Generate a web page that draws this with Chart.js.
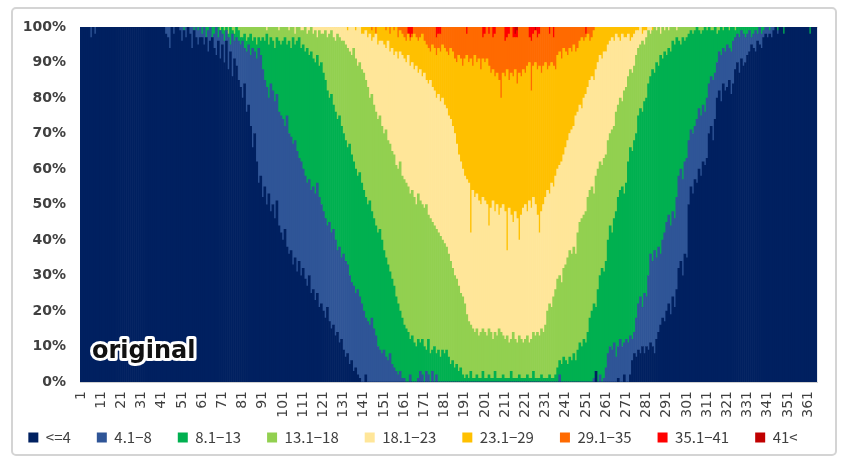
<!DOCTYPE html>
<html>
<head>
<meta charset="utf-8">
<script src="https://cdn.jsdelivr.net/npm/chart.js@4.4.1/dist/chart.umd.min.js"></script>
<style>
  html, body { margin: 0; padding: 0; background: #fff; }
  #wrap { width: 842px; height: 463px; }
</style>
</head>
<body>
<div id="wrap"><canvas id="daychart" width="842" height="463"></canvas></div>
<script>
var classes = ['<=4', '4.1\u22128', '8.1\u221213', '13.1\u221218', '18.1\u221223', '23.1\u221229', '29.1\u221235', '35.1\u221241', '41<'];
var colors = ['#002060', '#2f5597', '#00b050', '#92d050', '#ffe699', '#ffc000', '#ff6a00', '#ff0000', '#c00000'];

// day of year 1..365
var days = [];
for (var d = 1; d <= 365; d++) days.push(d);

// cumulative share (%) of each day at or below the class upper bound
var upTo4 = [
 100,100,100,100,100,97,100,98,100,100,
 100,100,100,100,100,100,100,100,100,100,
 100,100,100,100,100,100,100,100,100,100,
 100,100,100,100,100,100,100,100,100,100,
 100,100,98,97,94,100,98,100,100,99,
 96,99,97,100,98,94,99,97,95,97,
 97,95,97,93,96,97,94,92,96,91,
 95,90,96,88,93,86,91,89,85,83,
 80,84,76,78,72,66,70,62,56,58,
 52,55,50,53,48,50,46,51,44,42,
 40,43,38,36,37,33,35,31,34,30,
 32,29,27,30,25,26,23,25,21,22,
 20,18,21,17,15,16,13,14,11,12,
 9,7,8,5,6,3,4,2,1,0,
 0,2,0,0,0,0,0,0,0,0,
 0,0,0,0,0,0,0,0,0,0,
 0,0,0,0,0,0,0,0,0,0,
 0,0,0,0,0,0,0,0,0,0,
 0,0,0,0,0,0,0,0,0,0,
 0,0,0,0,0,0,0,0,0,0,
 0,0,0,0,0,0,0,0,0,0,
 0,0,0,0,0,0,0,0,0,0,
 0,0,0,0,0,0,0,0,0,0,
 0,0,0,0,0,0,0,0,0,0,
 0,0,0,0,0,0,0,0,0,0,
 0,0,0,0,0,3,0,0,0,0,
 0,0,0,0,0,0,1,0,0,2,
 0,0,2,6,8,7,9,8,10,8,
 10,9,11,10,8,12,14,16,18,17,
 20,22,19,24,21,26,32,34,30,36,
 35,50,55,53,57,56,60,58,62,61,
 63,70,72,68,74,80,82,79,84,82,
 83,85,81,84,88,90,87,91,89,90,
 92,93,95,94,93,96,95,94,97,98,
 97,98,97,99,100,98,100,100,98,100,
 100,100,100,100,100,100,100,100,100,100,
 100,98,100,100,100
];
var upTo8 = [
 100,100,100,100,100,100,100,100,100,100,
 100,100,100,100,100,100,100,100,100,100,
 100,100,100,100,100,100,100,100,100,100,
 100,100,100,100,100,100,100,100,100,100,
 100,100,100,100,100,100,100,97,98,100,
 100,99,100,98,100,100,97,100,99,100,
 98,100,97,99,100,96,98,100,97,99,
 98,96,99,97,95,98,96,97,96,95,
 96,94,93,95,92,94,93,91,94,92,
 88,85,83,80,84,82,79,81,76,75,
 74,72,75,70,69,67,68,65,63,62,
 60,58,56,57,54,55,53,56,52,50,
 48,46,44,45,42,43,40,37,38,35,
 36,34,33,30,28,27,25,26,24,22,
 20,18,17,16,18,15,13,10,9,8,
 9,7,6,8,5,4,3,2,3,1,
 1,0,0,2,0,0,0,1,3,2,
 0,3,2,0,3,0,2,0,0,0,
 0,0,0,0,0,0,0,0,0,0,
 0,0,0,0,0,0,0,0,0,0,
 0,0,0,0,0,0,0,0,0,0,
 0,0,0,0,0,0,0,0,0,0,
 0,0,0,0,0,0,0,0,0,0,
 0,0,0,0,0,0,0,2,0,0,
 0,0,0,0,0,0,0,0,0,0,
 0,0,0,0,1,3,0,2,0,1,
 4,8,10,9,11,7,10,12,10,11,
 12,11,13,12,14,18,22,24,21,25,
 24,30,36,34,37,35,38,36,40,42,
 45,47,44,48,46,52,58,60,57,62,
 63,68,71,70,72,74,77,75,78,76,
 80,84,86,85,87,90,93,92,94,93,
 95,94,93,96,97,98,97,99,98,97,
 98,99,97,98,99,98,100,98,99,100,
 100,99,100,100,100,99,100,100,98,100,
 100,100,100,100,100,100,100,100,100,100,
 100,98,100,100,100
];
var upTo13 = [
 100,100,100,100,100,100,100,100,100,100,
 100,100,100,100,100,100,100,100,100,100,
 100,100,100,100,100,100,100,100,100,100,
 100,100,100,100,100,100,100,100,100,100,
 100,100,100,100,100,100,100,100,100,100,
 100,100,100,100,100,100,100,100,100,100,
 100,99,100,100,99,100,100,98,100,99,
 100,99,100,98,100,99,98,100,99,97,
 97,98,96,97,98,96,97,95,97,96,
 97,96,98,95,97,96,94,97,96,95,
 96,97,95,96,94,97,95,96,97,94,
 95,93,94,92,93,91,90,92,89,90,
 87,85,82,80,81,78,76,74,75,72,
 70,68,66,67,64,62,60,58,59,56,
 54,52,50,51,48,46,44,42,43,40,
 37,35,33,31,29,27,24,22,20,18,
 16,15,14,12,13,11,10,12,11,12,
 10,9,12,8,9,10,8,9,7,9,
 8,9,7,5,6,4,5,3,4,2,
 1,2,1,3,1,1,2,1,1,3,
 1,1,2,1,1,3,1,1,1,2,
 1,1,1,3,1,1,1,2,1,1,
 1,2,1,1,3,1,1,1,2,1,
 1,1,2,1,1,2,4,6,5,7,
 6,5,7,6,8,6,9,11,10,12,
 11,14,18,20,22,21,26,30,32,31,
 34,40,44,42,46,48,52,54,55,53,
 56,62,66,65,68,70,75,77,76,79,
 80,84,86,88,87,90,89,92,91,93,
 92,94,93,96,95,97,96,95,97,96,
 97,98,99,98,99,100,99,98,99,100,
 99,100,99,99,100,98,99,100,99,100,
 100,99,100,100,99,100,100,100,100,100,
 100,100,100,100,100,100,100,100,100,100,
 100,100,100,100,100,100,100,100,100,100,
 100,100,100,100,100,100,100,100,100,100,
 100,100,100,100,100
];
var upTo18 = [
 100,100,100,100,100,100,100,100,100,100,
 100,100,100,100,100,100,100,100,100,100,
 100,100,100,100,100,100,100,100,100,100,
 100,100,100,100,100,100,100,100,100,100,
 100,100,100,100,100,100,100,100,100,100,
 100,100,100,100,100,100,100,100,100,100,
 100,100,100,100,100,100,100,100,100,100,
 100,100,100,100,100,100,100,100,100,100,
 100,100,100,100,100,100,100,100,100,100,
 100,100,99,100,100,100,100,100,99,100,
 100,100,100,99,100,100,98,100,100,99,
 99,100,98,99,100,98,99,97,99,98,
 98,99,97,98,99,97,96,98,97,96,
 96,95,94,93,92,94,91,89,90,88,
 87,85,83,80,81,78,76,74,75,72,
 70,71,68,67,65,64,61,60,62,58,
 57,56,55,53,54,52,50,53,51,50,
 49,50,47,46,45,44,43,42,41,40,
 39,38,36,34,32,30,29,27,25,24,
 22,19,17,16,15,14,15,13,14,15,
 14,13,15,14,12,14,13,15,14,13,
 12,13,11,12,14,12,11,13,12,11,
 12,13,11,12,14,13,14,13,15,14,
 16,20,22,21,24,26,29,30,28,32,
 33,35,37,36,38,36,42,45,46,47,
 48,52,54,55,53,58,60,62,61,63,
 64,68,70,71,72,76,78,80,79,82,
 83,86,88,87,89,92,94,95,96,95,
 97,99,98,99,100,99,100,98,100,99,
 100,99,100,100,100,99,100,100,100,100,
 100,100,100,100,100,100,100,100,100,100,
 100,100,100,100,100,100,100,100,100,100,
 100,100,100,100,100,100,100,100,100,100,
 100,100,100,100,100,100,100,100,100,100,
 100,100,100,100,100,100,100,100,100,100,
 100,100,100,100,100,100,100,100,100,100,
 100,100,100,100,100
];
var upTo23 = [
 100,100,100,100,100,100,100,100,100,100,
 100,100,100,100,100,100,100,100,100,100,
 100,100,100,100,100,100,100,100,100,100,
 100,100,100,100,100,100,100,100,100,100,
 100,100,100,100,100,100,100,100,100,100,
 100,100,100,100,100,100,100,100,100,100,
 100,100,100,100,100,100,100,100,100,100,
 100,100,100,100,100,100,100,100,100,100,
 100,100,100,100,100,100,100,100,100,100,
 100,100,100,100,100,100,100,100,100,100,
 100,100,100,100,100,100,100,100,100,100,
 100,100,100,100,100,100,100,100,100,100,
 100,100,100,100,100,100,100,100,100,100,
 100,100,99,100,100,100,99,100,100,98,
 98,99,97,98,96,97,98,95,96,96,
 95,94,96,93,94,92,93,91,93,92,
 91,90,92,89,90,88,89,87,88,86,
 87,85,84,85,83,82,80,81,79,80,
 78,77,75,74,72,70,67,64,62,60,
 58,57,56,42,54,52,53,51,50,52,
 51,50,44,49,51,48,50,47,49,50,
 48,37,49,47,45,48,46,40,47,49,
 50,48,51,49,52,50,47,42,48,50,
 52,54,53,56,55,58,60,61,62,64,
 66,68,70,71,72,75,76,78,77,80,
 81,83,85,86,85,88,90,92,91,93,
 93,95,96,97,96,98,97,96,98,97,
 97,98,96,97,98,99,99,100,98,99,
 99,100,100,99,100,100,100,100,100,100,
 100,100,100,100,100,100,100,100,100,100,
 100,100,100,100,100,100,100,100,100,100,
 100,100,100,100,100,100,100,100,100,100,
 100,100,100,100,100,100,100,100,100,100,
 100,100,100,100,100,100,100,100,100,100,
 100,100,100,100,100,100,100,100,100,100,
 100,100,100,100,100,100,100,100,100,100,
 100,100,100,100,100
];
var upTo29 = [
 100,100,100,100,100,100,100,100,100,100,
 100,100,100,100,100,100,100,100,100,100,
 100,100,100,100,100,100,100,100,100,100,
 100,100,100,100,100,100,100,100,100,100,
 100,100,100,100,100,100,100,100,100,100,
 100,100,100,100,100,100,100,100,100,100,
 100,100,100,100,100,100,100,100,100,100,
 100,100,100,100,100,100,100,100,100,100,
 100,100,100,100,100,100,100,100,100,100,
 100,100,100,100,100,100,100,100,100,100,
 100,100,100,100,100,100,100,100,100,100,
 100,100,100,100,100,100,100,100,100,100,
 100,100,100,100,100,100,100,100,100,100,
 100,100,100,100,100,100,100,100,100,100,
 100,100,100,100,99,100,98,100,100,100,
 100,99,100,98,100,99,100,97,99,98,
 97,96,98,96,97,98,97,96,97,98,
 96,95,94,93,95,94,92,94,93,95,
 94,93,92,94,93,91,90,92,91,89,
 91,92,90,91,89,92,90,91,88,91,
 90,91,89,87,88,86,87,85,80,87,
 86,88,85,87,86,88,84,87,86,88,
 87,89,90,82,89,90,88,89,87,89,
 90,88,89,90,89,88,92,93,91,94,
 93,92,94,93,95,93,94,96,97,96,
 97,98,96,97,99,100,100,100,100,100,
 100,100,100,100,100,100,100,100,100,100,
 100,100,100,100,100,100,100,100,100,100,
 100,100,100,100,100,100,100,100,100,100,
 100,100,100,100,100,100,100,100,100,100,
 100,100,100,100,100,100,100,100,100,100,
 100,100,100,100,100,100,100,100,100,100,
 100,100,100,100,100,100,100,100,100,100,
 100,100,100,100,100,100,100,100,100,100,
 100,100,100,100,100,100,100,100,100,100,
 100,100,100,100,100,100,100,100,100,100,
 100,100,100,100,100
];
var upTo35 = [
 100,100,100,100,100,100,100,100,100,100,
 100,100,100,100,100,100,100,100,100,100,
 100,100,100,100,100,100,100,100,100,100,
 100,100,100,100,100,100,100,100,100,100,
 100,100,100,100,100,100,100,100,100,100,
 100,100,100,100,100,100,100,100,100,100,
 100,100,100,100,100,100,100,100,100,100,
 100,100,100,100,100,100,100,100,100,100,
 100,100,100,100,100,100,100,100,100,100,
 100,100,100,100,100,100,100,100,100,100,
 100,100,100,100,100,100,100,100,100,100,
 100,100,100,100,100,100,100,100,100,100,
 100,100,100,100,100,100,100,100,100,100,
 100,100,100,100,100,100,100,100,100,100,
 100,100,100,100,100,100,100,100,100,100,
 100,100,100,100,100,100,100,100,100,100,
 100,100,98,97,98,100,100,100,100,100,
 100,100,100,100,100,100,97,98,98,100,
 100,100,100,100,100,100,100,100,100,100,
 100,98,100,100,100,100,100,100,100,97,
 98,100,98,100,97,98,100,100,100,100,
 96,97,98,100,97,97,97,100,100,100,
 100,100,97,96,98,99,97,98,100,100,
 100,100,98,100,97,100,100,100,100,100,
 100,100,100,100,100,100,100,100,100,100,
 98,100,100,100,100,100,100,100,100,100,
 100,100,100,100,100,100,100,100,100,100,
 100,100,100,100,100,100,100,100,100,100,
 100,100,100,100,100,100,100,100,100,100,
 100,100,100,100,100,100,100,100,100,100,
 100,100,100,100,100,100,100,100,100,100,
 100,100,100,100,100,100,100,100,100,100,
 100,100,100,100,100,100,100,100,100,100,
 100,100,100,100,100,100,100,100,100,100,
 100,100,100,100,100,100,100,100,100,100,
 100,100,100,100,100,100,100,100,100,100,
 100,100,100,100,100
];
var upTo41 = [
 100,100,100,100,100,100,100,100,100,100,
 100,100,100,100,100,100,100,100,100,100,
 100,100,100,100,100,100,100,100,100,100,
 100,100,100,100,100,100,100,100,100,100,
 100,100,100,100,100,100,100,100,100,100,
 100,100,100,100,100,100,100,100,100,100,
 100,100,100,100,100,100,100,100,100,100,
 100,100,100,100,100,100,100,100,100,100,
 100,100,100,100,100,100,100,100,100,100,
 100,100,100,100,100,100,100,100,100,100,
 100,100,100,100,100,100,100,100,100,100,
 100,100,100,100,100,100,100,100,100,100,
 100,100,100,100,100,100,100,100,100,100,
 100,100,100,100,100,100,100,100,100,100,
 100,100,100,100,100,100,100,100,100,100,
 100,100,100,100,100,100,100,100,100,100,
 100,100,100,100,100,100,100,100,100,100,
 100,100,100,100,100,100,100,100,100,100,
 100,100,100,100,100,100,100,100,100,100,
 100,100,100,100,100,100,100,100,100,100,
 100,100,100,100,100,100,100,100,100,100,
 100,100,100,100,100,98,99,100,100,100,
 100,100,100,100,100,99,100,100,100,100,
 100,100,100,100,100,100,100,100,100,100,
 100,100,100,100,100,100,100,100,100,100,
 100,100,100,100,100,100,100,100,100,100,
 100,100,100,100,100,100,100,100,100,100,
 100,100,100,100,100,100,100,100,100,100,
 100,100,100,100,100,100,100,100,100,100,
 100,100,100,100,100,100,100,100,100,100,
 100,100,100,100,100,100,100,100,100,100,
 100,100,100,100,100,100,100,100,100,100,
 100,100,100,100,100,100,100,100,100,100,
 100,100,100,100,100,100,100,100,100,100,
 100,100,100,100,100,100,100,100,100,100,
 100,100,100,100,100,100,100,100,100,100,
 100,100,100,100,100
];
var yTicks = [0, 10, 20, 30, 40, 50, 60, 70, 80, 90, 100];

var edges = [upTo4, upTo8, upTo13, upTo18, upTo23, upTo29, upTo35, upTo41];

// bottom edge of class k on day i (kept monotone)
function edgeAt(k, i) {
  var v = 0;
  for (var j = 0; j <= k; j++) v = Math.max(v, edges[j][i]);
  return v;
}

var datasets = classes.map(function(name, k) {
  return {
    label: name,
    backgroundColor: colors[k],
    borderWidth: 0,
    data: days.map(function(day, i) {
      var lo = k === 0 ? 0 : edgeAt(k - 1, i);
      var hi = k === classes.length - 1 ? 100 : edgeAt(k, i);
      return Math.max(0, hi - lo);
    })
  };
});

var framePlugin = {
  id: 'frame',
  beforeDraw: function(chart) {
    var ctx = chart.ctx;
    ctx.save();
    ctx.fillStyle = '#ffffff';
    ctx.fillRect(0, 0, chart.width, chart.height);
    ctx.strokeStyle = '#d4d4d4';
    ctx.lineWidth = 2;
    ctx.beginPath();
    ctx.roundRect(12, 8, 824, 447, 4);
    ctx.stroke();
    ctx.restore();
  },
  afterDatasetsDraw: function(chart) {
    var ctx = chart.ctx;
    var area = chart.chartArea;
    ctx.save();
    ctx.font = 'bold 24px "DejaVu Sans"';
    ctx.textBaseline = 'alphabetic';
    ctx.lineJoin = 'round';
    ctx.lineWidth = 6;
    ctx.strokeStyle = '#ffffff';
    ctx.strokeText('original', area.left + 12, area.bottom - 24);
    ctx.fillStyle = '#111111';
    ctx.fillText('original', area.left + 12, area.bottom - 24);
    ctx.restore();
  }
};

var ctx = document.getElementById('daychart').getContext('2d');
window.dayChart = new Chart(ctx, {
  type: 'bar',
  data: { labels: days, datasets: datasets },
  plugins: [framePlugin],
  options: {
    responsive: false,
    animation: false,
    devicePixelRatio: 1,
    layout: { padding: { left: 0, right: 16, top: 27, bottom: 8 } },
    datasets: { bar: { barPercentage: 1, categoryPercentage: 1 } },
    plugins: {
      legend: {
        display: true,
        position: 'bottom',
        labels: {
          boxWidth: 10,
          boxHeight: 10,
          padding: 26,
          color: '#404040',
          font: { family: '"Noto Sans CJK JP", "DejaVu Sans"', size: 15 }
        }
      },
      title: { display: false },
      tooltip: { enabled: false }
    },
    scales: {
      x: {
        stacked: true,
        grid: { display: false, drawTicks: false },
        border: { display: true, color: '#d0d0d0' },
        afterFit: function(scale) {
          scale.height = 22;
          // the rotated labels run below the shortened axis box, so do not clip them to it
          scale._computeLabelArea = function() { return undefined; };
        },
        ticks: {
          autoSkip: false,
          maxRotation: 90,
          minRotation: 90,
          padding: 9,
          color: '#404040',
          font: { family: '"DejaVu Sans"', size: 14 },
          callback: function(value, index) {
            return index % 10 === 0 ? String(days[index]) : '';
          }
        }
      },
      y: {
        stacked: true,
        min: 0,
        max: 100,
        grid: { display: false, drawTicks: false },
        border: { display: false },
        afterFit: function(scale) { scale.width = 80; },
        afterBuildTicks: function(scale) {
          scale.ticks = yTicks.map(function(v) { return { value: v }; });
        },
        ticks: {
          padding: 14,
          color: '#404040',
          font: { family: '"DejaVu Sans"', size: 14, weight: 'bold' },
          callback: function(value) { return value + '%'; }
        }
      }
    }
  }
});
</script>
</body>
</html>
